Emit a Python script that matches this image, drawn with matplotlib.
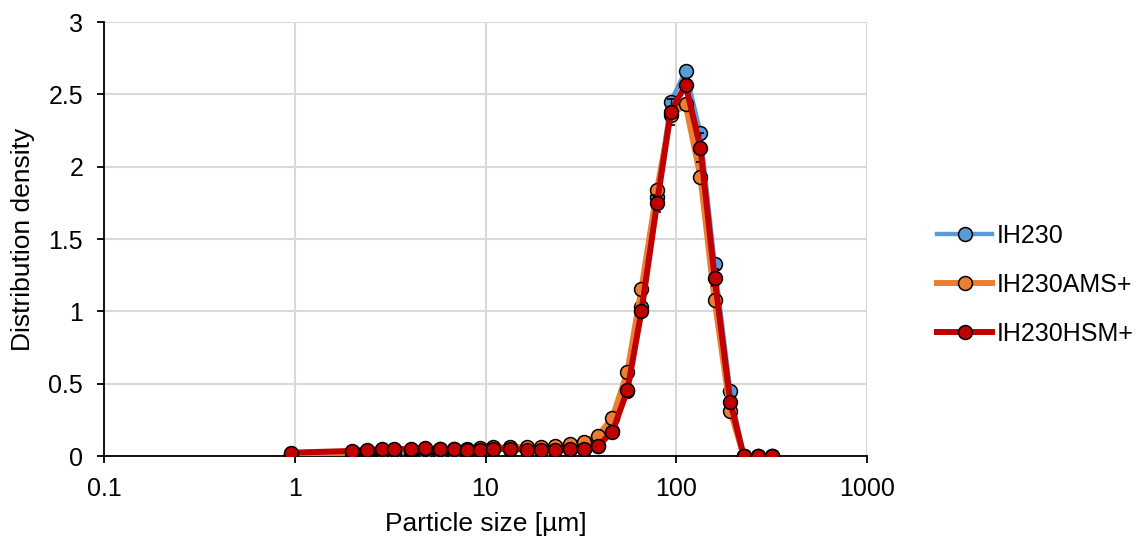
import matplotlib.pyplot as plt
from matplotlib.ticker import FixedLocator, FixedFormatter, NullLocator

plt.rcParams['font.family'] = ['Liberation Sans', 'DejaVu Sans']

# particle size classes [µm]
size_um = [0.96, 2.0, 2.4, 2.85, 3.32, 4.06, 4.79, 5.75, 6.84, 8.04, 9.4, 11.0,
           13.4, 16.5, 19.6, 23.2, 27.7, 32.7, 38.9, 46.3, 55.5, 65.7, 79.3,
           93.6, 112, 134, 159, 192, 226, 270, 319]

ih230 = [0.005, 0.015, 0.015, 0.02, 0.02, 0.025, 0.025, 0.03, 0.03, 0.035, 0.04,
         0.045, 0.045, 0.045, 0.045, 0.045, 0.05, 0.05, 0.07, 0.17, 0.45, 1.03,
         1.79, 2.45, 2.663, 2.23, 1.33, 0.45, 0, 0, 0]
ih230_ams = [0.015, 0.03, 0.035, 0.035, 0.04, 0.04, 0.045, 0.045, 0.045, 0.05,
             0.055, 0.06, 0.06, 0.062, 0.062, 0.071, 0.083, 0.099, 0.14, 0.265,
             0.583, 1.155, 1.84, 2.36, 2.43, 1.93, 1.078, 0.313, 0, 0, 0]
ih230_hsm = [0.023, 0.035, 0.044, 0.045, 0.048, 0.048, 0.055, 0.05, 0.046, 0.042,
             0.042, 0.048, 0.051, 0.042, 0.042, 0.042, 0.048, 0.048, 0.071, 0.168,
             0.456, 1.0, 1.747, 2.38, 2.565, 2.13, 1.232, 0.376, 0, 0, 0]
ih230_hsm_err = [0, 0, 0, 0, 0, 0, 0, 0, 0, 0, 0, 0, 0, 0, 0, 0, 0, 0, 0, 0,
                 0.02, 0.03, 0.06, 0.09, 0.04, 0.1, 0.06, 0.02, 0, 0, 0]

series = [("IH230", ih230, "#5B9BD5", 3.2),
          ("IH230AMS+", ih230_ams, "#ED7D31", 4.3),
          ("IH230HSM+", ih230_hsm, "#C00000", 4.3)]

fig = plt.figure(figsize=(11.46, 5.41), dpi=100)
ax = fig.add_axes([0.0908, 0.1571, 0.6657, 0.8022])

for i, (name, vals, col, lw) in enumerate(series):
    ax.plot(size_um, vals, color=col, lw=lw, marker='o', ms=10,
            mfc=col, mec='black', mew=1.1, label=name, zorder=3 + i)
    if name == "IH230HSM+":
        ax.errorbar(size_um, vals, yerr=ih230_hsm_err, fmt='none',
                    ecolor='black', elinewidth=1, capsize=3, capthick=1.2,
                    zorder=4.5)

ax.set_xscale('log')
ax.set_xlim(0.1, 1000)
ax.set_ylim(0, 3)
ax.xaxis.set_major_locator(FixedLocator([0.1, 1, 10, 100, 1000]))
ax.xaxis.set_major_formatter(FixedFormatter(['0.1', '1', '10', '100', '1000']))
ax.xaxis.set_minor_locator(NullLocator())
ax.set_yticks([0, 0.5, 1, 1.5, 2, 2.5, 3])
ax.set_yticklabels(['0', '0.5', '1', '1.5', '2', '2.5', '3'])

ax.grid(True, color='#D9D9D9', lw=1.5)
ax.set_axisbelow(True)
for s in ['top', 'right']:
    ax.spines[s].set_visible(False)
for s in ['left', 'bottom']:
    ax.spines[s].set_color('black')
    ax.spines[s].set_linewidth(1.3)
ax.tick_params(axis='both', direction='out', length=5, width=1.3,
               labelsize=18, colors='black', pad=10)

ax.set_xlabel("Particle size [µm]", fontsize=19, labelpad=8)
ax.set_ylabel("Distribution density", fontsize=19, labelpad=10)

fig.legend(loc='center left', bbox_to_anchor=(0.798, 0.473), frameon=False,
           fontsize=18, handlelength=2.2, handletextpad=0.2, labelspacing=1.0)

fig.savefig("out.png", dpi=100)
